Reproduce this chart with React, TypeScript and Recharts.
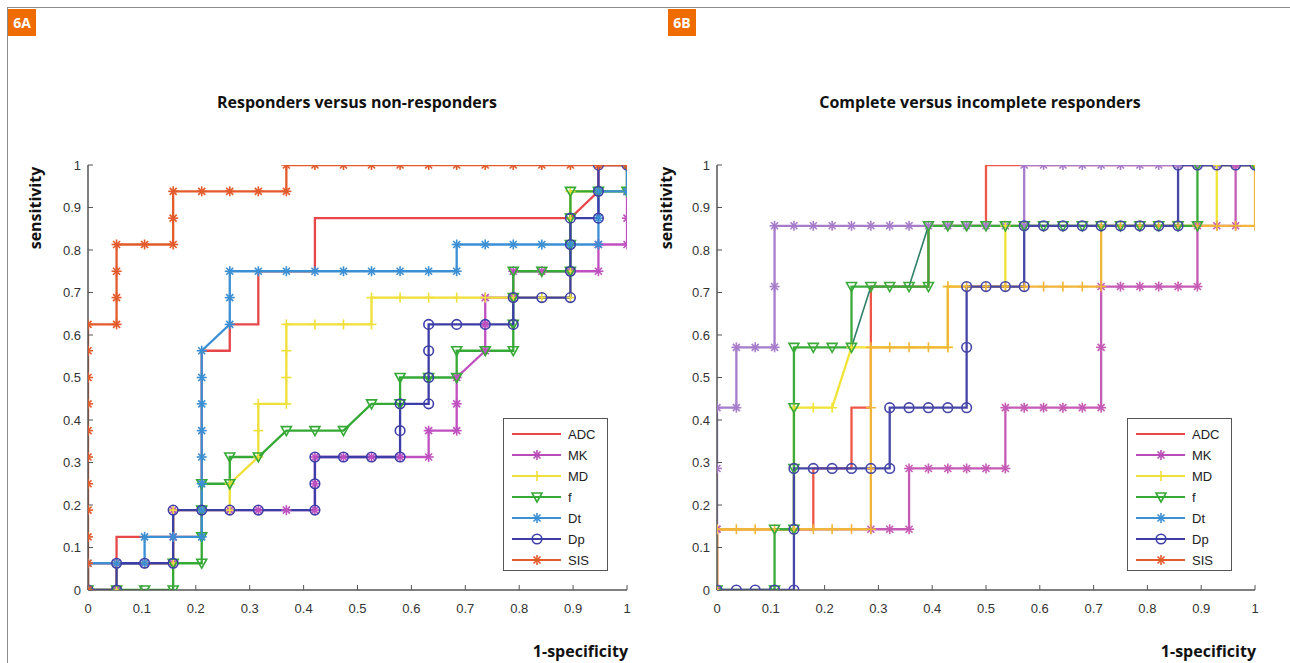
import React from 'react';
import { LineChart, Line, XAxis, YAxis, Legend } from 'recharts';

// ---- panel A: responders vs non-responders (x step 1/19, y step 1/16) ----
const A_ADC = [[0,0],[0,0.063],[0.053,0.063],[0.053,0.125],[0.105,0.125],[0.158,0.125],[0.211,0.125],[0.211,0.563],[0.263,0.563],[0.263,0.625],[0.316,0.625],[0.316,0.75],[0.421,0.75],[0.421,0.875],[0.895,0.875],[0.947,0.938],[0.947,1],[1,1]];
const A_MK = [[0,0],[0.053,0],[0.053,0.063],[0.105,0.063],[0.158,0.063],[0.158,0.125],[0.158,0.188],[0.211,0.188],[0.263,0.188],[0.316,0.188],[0.368,0.188],[0.421,0.188],[0.421,0.25],[0.421,0.313],[0.474,0.313],[0.526,0.313],[0.579,0.313],[0.632,0.313],[0.632,0.375],[0.684,0.375],[0.684,0.438],[0.684,0.5],[0.737,0.563],[0.737,0.625],[0.737,0.688],[0.789,0.688],[0.789,0.75],[0.842,0.75],[0.895,0.75],[0.947,0.75],[0.947,0.813],[1,0.813],[1,0.875],[1,0.938],[1,1]];
const A_MD = [[0,0],[0.053,0],[0.053,0.063],[0.105,0.063],[0.158,0.063],[0.158,0.188],[0.211,0.188],[0.263,0.188],[0.263,0.25],[0.316,0.313],[0.316,0.375],[0.316,0.438],[0.368,0.438],[0.368,0.5],[0.368,0.563],[0.368,0.625],[0.421,0.625],[0.474,0.625],[0.526,0.625],[0.526,0.688],[0.579,0.688],[0.632,0.688],[0.684,0.688],[0.737,0.688],[0.789,0.688],[0.842,0.688],[0.895,0.688],[0.895,0.75],[0.895,0.813],[0.895,0.875],[0.895,0.938],[0.947,0.938],[1,0.938],[1,1]];
const A_F = [[0,0],[0.053,0],[0.105,0],[0.158,0],[0.158,0.063],[0.211,0.063],[0.211,0.125],[0.211,0.188],[0.211,0.25],[0.263,0.25],[0.263,0.313],[0.316,0.313],[0.368,0.375],[0.421,0.375],[0.474,0.375],[0.526,0.438],[0.579,0.438],[0.579,0.5],[0.632,0.5],[0.684,0.5],[0.684,0.563],[0.737,0.563],[0.789,0.563],[0.789,0.625],[0.789,0.688],[0.789,0.75],[0.842,0.75],[0.895,0.75],[0.895,0.813],[0.895,0.875],[0.895,0.938],[0.947,0.938],[1,0.938],[1,1]];
const A_DT = [[0,0],[0,0.063],[0.053,0.063],[0.105,0.063],[0.105,0.125],[0.158,0.125],[0.211,0.125],[0.211,0.188],[0.211,0.25],[0.211,0.313],[0.211,0.375],[0.211,0.438],[0.211,0.5],[0.211,0.563],[0.263,0.625],[0.263,0.688],[0.263,0.75],[0.316,0.75],[0.368,0.75],[0.421,0.75],[0.474,0.75],[0.526,0.75],[0.579,0.75],[0.632,0.75],[0.684,0.75],[0.684,0.813],[0.737,0.813],[0.789,0.813],[0.842,0.813],[0.895,0.813],[0.947,0.813],[0.947,0.875],[0.947,0.938],[1,0.938],[1,1]];
const A_DP = [[0,0],[0.053,0],[0.053,0.063],[0.105,0.063],[0.158,0.063],[0.158,0.188],[0.211,0.188],[0.263,0.188],[0.316,0.188],[0.421,0.188],[0.421,0.25],[0.421,0.313],[0.474,0.313],[0.526,0.313],[0.579,0.313],[0.579,0.375],[0.579,0.438],[0.632,0.438],[0.632,0.5],[0.632,0.563],[0.632,0.625],[0.684,0.625],[0.737,0.625],[0.789,0.625],[0.789,0.688],[0.842,0.688],[0.895,0.688],[0.895,0.75],[0.895,0.813],[0.895,0.875],[0.947,0.875],[0.947,0.938],[0.947,1],[1,1]];
const A_SIS = [[0,0],[0,0.063],[0,0.125],[0,0.188],[0,0.25],[0,0.313],[0,0.375],[0,0.438],[0,0.5],[0,0.563],[0,0.625],[0.053,0.625],[0.053,0.688],[0.053,0.75],[0.053,0.813],[0.105,0.813],[0.158,0.813],[0.158,0.875],[0.158,0.938],[0.211,0.938],[0.263,0.938],[0.316,0.938],[0.368,0.938],[0.368,1],[0.421,1],[0.474,1],[0.526,1],[0.579,1],[0.632,1],[0.684,1],[0.737,1],[0.789,1],[0.842,1],[0.895,1],[0.947,1],[1,1]];

// ---- panel B: complete vs incomplete responders (x step 1/28, y step 1/7) ----
const B_ADC = [[0,0],[0,0.143],[0.179,0.143],[0.179,0.286],[0.25,0.286],[0.25,0.429],[0.286,0.429],[0.286,0.714],[0.393,0.714],[0.393,0.857],[0.5,0.857],[0.5,1],[1,1]];
const B_UPPER = [[0,0],[0,0.143],[0,0.286],[0,0.429],[0.036,0.429],[0.036,0.571],[0.071,0.571],[0.107,0.571],[0.107,0.714],[0.107,0.857],[0.143,0.857],[0.179,0.857],[0.214,0.857],[0.25,0.857],[0.286,0.857],[0.321,0.857],[0.357,0.857],[0.393,0.857],[0.429,0.857],[0.464,0.857],[0.5,0.857],[0.536,0.857],[0.571,0.857],[0.571,1],[0.607,1],[0.643,1],[0.679,1],[0.714,1],[0.75,1],[0.786,1],[0.821,1],[0.857,1],[0.893,1],[0.929,1],[0.964,1],[1,1]];
const B_LOWER = [[0,0],[0,0.143],[0.286,0.143],[0.321,0.143],[0.357,0.143],[0.357,0.286],[0.393,0.286],[0.429,0.286],[0.464,0.286],[0.5,0.286],[0.536,0.286],[0.536,0.429],[0.571,0.429],[0.607,0.429],[0.643,0.429],[0.679,0.429],[0.714,0.429],[0.714,0.571],[0.714,0.714],[0.75,0.714],[0.786,0.714],[0.821,0.714],[0.857,0.714],[0.893,0.714],[0.893,0.857],[0.929,0.857],[0.964,0.857],[0.964,1],[1,1]];
const B_MD = [[0,0],[0,0.143],[0.143,0.143],[0.143,0.429],[0.179,0.429],[0.214,0.429],[0.25,0.571],[0.429,0.571],[0.429,0.714],[0.536,0.714],[0.536,0.857],[0.929,0.857],[0.929,1],[1,1]];
const B_ORANGE = [[0,0],[0,0.143],[0.036,0.143],[0.071,0.143],[0.107,0.143],[0.143,0.143],[0.179,0.143],[0.214,0.143],[0.25,0.143],[0.286,0.143],[0.286,0.286],[0.286,0.429],[0.286,0.571],[0.321,0.571],[0.357,0.571],[0.393,0.571],[0.429,0.571],[0.429,0.714],[0.464,0.714],[0.5,0.714],[0.536,0.714],[0.571,0.714],[0.607,0.714],[0.643,0.714],[0.679,0.714],[0.714,0.714],[0.714,0.857],[0.75,0.857],[0.786,0.857],[0.821,0.857],[0.857,0.857],[0.893,0.857],[0.929,0.857],[0.964,0.857],[1,0.857],[1,1]];
const B_DIAG = [[0.25,0.571],[0.286,0.714],[0.357,0.714],[0.393,0.857]];
const B_F = [[0,0],[0.107,0],[0.107,0.143],[0.143,0.143],[0.143,0.286],[0.143,0.429],[0.143,0.571],[0.179,0.571],[0.214,0.571],[0.25,0.571],[0.25,0.714],[0.286,0.714],[0.321,0.714],[0.357,0.714],[0.393,0.714],[0.393,0.857],[0.429,0.857],[0.464,0.857],[0.5,0.857],[0.536,0.857],[0.571,0.857],[0.607,0.857],[0.643,0.857],[0.679,0.857],[0.714,0.857],[0.75,0.857],[0.786,0.857],[0.821,0.857],[0.857,0.857],[0.893,0.857],[0.893,1],[1,1]];
const B_DP = [[0,0],[0.036,0],[0.071,0],[0.107,0],[0.143,0],[0.143,0.143],[0.143,0.286],[0.179,0.286],[0.214,0.286],[0.25,0.286],[0.286,0.286],[0.321,0.286],[0.321,0.429],[0.357,0.429],[0.393,0.429],[0.429,0.429],[0.464,0.429],[0.464,0.571],[0.464,0.714],[0.5,0.714],[0.536,0.714],[0.571,0.714],[0.571,0.857],[0.607,0.857],[0.643,0.857],[0.679,0.857],[0.714,0.857],[0.75,0.857],[0.786,0.857],[0.821,0.857],[0.857,0.857],[0.857,1],[0.893,1],[0.929,1],[0.964,1],[1,1]];

const TICKS = [0, 0.1, 0.2, 0.3, 0.4, 0.5, 0.6, 0.7, 0.8, 0.9, 1];
const LEGEND_NAMES = ['ADC', 'MK', 'MD', 'f', 'Dt', 'Dp', 'SIS'];
const LEGEND_COLORS = ['#e8474a', '#b84cb8', '#efe03a', '#35a935', '#3b8fd4', '#3d3da8', '#e35a2b'];
const LEGEND_SHAPES = ['none', 'star', 'plus', 'tri', 'star', 'circle', 'star'];

type Series = { key: string; data: number[][]; color: string; shape: string; width?: number };

const seriesA: Series[] = [
  { key: 'ADC', data: A_ADC, color: '#e8474a', shape: 'none' },
  { key: 'MK', data: A_MK, color: '#c050c0', shape: 'star' },
  { key: 'MD', data: A_MD, color: '#efe03a', shape: 'plus' },
  { key: 'f', data: A_F, color: '#35a935', shape: 'tri' },
  { key: 'Dt', data: A_DT, color: '#3b8fd4', shape: 'star' },
  { key: 'Dp', data: A_DP, color: '#3d3da8', shape: 'circle' },
  { key: 'SIS', data: A_SIS, color: '#e35a2b', shape: 'star' },
];

const seriesB: Series[] = [
  { key: 'ADC', data: B_ADC, color: '#ee5648', shape: 'none' },
  { key: 'upper', data: B_UPPER, color: '#a77ccb', shape: 'star' },
  { key: 'lower', data: B_LOWER, color: '#c65bb6', shape: 'star' },
  { key: 'MD', data: B_MD, color: '#f2e436', shape: 'plus' },
  { key: 'orange', data: B_ORANGE, color: '#f0b53a', shape: 'plus' },
  { key: 'diag', data: B_DIAG, color: '#2f7f6a', shape: 'none', width: 1.6 },
  { key: 'f', data: B_F, color: '#3aaa3a', shape: 'tri' },
  { key: 'Dp', data: B_DP, color: '#4646a8', shape: 'circle' },
];

const drawMarker = (shape: string, color: string, cx: number, cy: number, k: string) => {
  const s = 5;
  const d = 3.5;
  if (shape === 'star') {
    return (
      <g key={k} stroke={color} strokeWidth={1.6}>
        <line x1={cx - s} y1={cy} x2={cx + s} y2={cy} />
        <line x1={cx} y1={cy - s} x2={cx} y2={cy + s} />
        <line x1={cx - d} y1={cy - d} x2={cx + d} y2={cy + d} />
        <line x1={cx - d} y1={cy + d} x2={cx + d} y2={cy - d} />
      </g>
    );
  }
  if (shape === 'plus') {
    return (
      <g key={k} stroke={color} strokeWidth={1.6}>
        <line x1={cx - s} y1={cy} x2={cx + s} y2={cy} />
        <line x1={cx} y1={cy - s} x2={cx} y2={cy + s} />
      </g>
    );
  }
  if (shape === 'tri') {
    return (
      <polygon key={k} points={`${cx - 5},${cy - 4} ${cx + 5},${cy - 4} ${cx},${cy + 5}`} fill="none" stroke={color} strokeWidth={1.6} />
    );
  }
  if (shape === 'circle') {
    return <circle key={k} cx={cx} cy={cy} r={4.8} fill="none" stroke={color} strokeWidth={1.6} />;
  }
  return <g key={k} />;
};

const LegendBox = () => (
  <div style={{ width: 105, height: 153, border: '1.5px solid #555', background: '#fff', boxSizing: 'border-box', paddingTop: 4 }}>
    <svg width={102} height={147}>
      {LEGEND_NAMES.map((name, i) => {
        const y = 11 + i * 21;
        return (
          <g key={name}>
            <line x1={8} y1={y} x2={57} y2={y} stroke={LEGEND_COLORS[i]} strokeWidth={2} />
            {drawMarker(LEGEND_SHAPES[i], LEGEND_COLORS[i], 33, y, 'm' + i)}
            <text x={64} y={y + 4.5} fontSize={13} fontFamily="Liberation Sans, Arial" fill="#222">{name}</text>
          </g>
        );
      })}
    </svg>
  </div>
);

const tickStyle = { fontSize: 13, fontFamily: 'Liberation Sans, Arial', fill: '#333' };
const axisLine = { stroke: '#555', strokeWidth: 1.5 };

const RocPanel = ({ series, rightMargin, legendLeft }: { series: Series[]; rightMargin: number; legendLeft: number }) => (
  <LineChart width={600} height={470} margin={{ top: 15, right: rightMargin, bottom: 0, left: 0 }}>
    <XAxis xAxisId="b" dataKey="x" type="number" domain={[0, 1]} ticks={TICKS} orientation="bottom" height={30}
      tickSize={-5} tickMargin={19} tick={tickStyle} axisLine={axisLine} tickLine={{ stroke: '#555' }} allowDataOverflow />
    <XAxis xAxisId="t" dataKey="x" type="number" domain={[0, 1]} ticks={TICKS} orientation="top" height={0}
      tickSize={-5} tick={false} axisLine={axisLine} tickLine={{ stroke: '#555' }} />
    <YAxis yAxisId="l" dataKey="y" type="number" domain={[0, 1]} ticks={TICKS} width={48}
      tickSize={-5} tickMargin={12} tick={tickStyle} axisLine={axisLine} tickLine={{ stroke: '#555' }} allowDataOverflow />
    <YAxis yAxisId="r" dataKey="y" type="number" domain={[0, 1]} ticks={TICKS} orientation="right" width={0}
      tickSize={-5} tick={false} axisLine={axisLine} tickLine={{ stroke: '#555' }} />
    {series.map((s) => (
      <Line
        key={s.key}
        xAxisId="b"
        yAxisId="l"
        data={s.data.map(([x, y]) => ({ x, y }))}
        dataKey="y"
        type="linear"
        stroke={s.color}
        strokeWidth={s.width ?? 2.3}
        isAnimationActive={false}
        activeDot={false}
        dot={s.shape === 'none' ? false : (p: any) => drawMarker(s.shape, s.color, p.cx, p.cy, `${s.key}-${p.index}`)}
      />
    ))}
    <Legend content={() => <LegendBox />} layout="horizontal" align="center" verticalAlign="middle"
      wrapperStyle={{ position: 'absolute', left: legendLeft, top: 268, width: 105, height: 153 }} />
  </LineChart>
);

const tag = (left: number, text: string) => (
  <div style={{ position: 'absolute', left, top: 9, width: 28, height: 27, background: '#ef6c00', color: '#fff',
    fontFamily: 'Open Sans, sans-serif', fontWeight: 700, fontSize: 14, lineHeight: '27px', textAlign: 'center' }}>{text}</div>
);

const labelFont = { fontFamily: 'Open Sans, sans-serif', fontWeight: 700, fontSize: 16, color: '#111' } as const;

export default function App() {
  return (
    <div style={{ position: 'absolute', left: 0, top: 0, width: 1290, height: 663, background: '#fff', overflow: 'hidden' }}>
      <div style={{ position: 'absolute', left: 7, top: 7, width: 1290, height: 663, borderTop: '1.5px solid #8c8c8c', borderLeft: '1.5px solid #8c8c8c' }} />
      {tag(8, '6A')}
      {tag(668, '6B')}
      <div style={{ ...labelFont, position: 'absolute', left: 357, top: 91, transform: 'translateX(-50%)', whiteSpace: 'nowrap' }}>Responders versus non-responders</div>
      <div style={{ ...labelFont, position: 'absolute', left: 980, top: 91, transform: 'translateX(-50%)', whiteSpace: 'nowrap' }}>Complete versus incomplete responders</div>
      <div style={{ ...labelFont, position: 'absolute', left: 35, top: 208, transform: 'translate(-50%, -50%) rotate(-90deg)', whiteSpace: 'nowrap' }}>sensitivity</div>
      <div style={{ ...labelFont, position: 'absolute', left: 666, top: 208, transform: 'translate(-50%, -50%) rotate(-90deg)', whiteSpace: 'nowrap' }}>sensitivity</div>
      <div style={{ ...labelFont, position: 'absolute', right: 1290 - 628, top: 640, whiteSpace: 'nowrap' }}>1-specificity</div>
      <div style={{ ...labelFont, position: 'absolute', right: 1290 - 1256, top: 640, whiteSpace: 'nowrap' }}>1-specificity</div>
      <div style={{ position: 'absolute', left: 40, top: 150 }}>
        <RocPanel series={seriesA} rightMargin={13} legendLeft={463} />
      </div>
      <div style={{ position: 'absolute', left: 669, top: 150 }}>
        <RocPanel series={seriesB} rightMargin={14} legendLeft={458} />
      </div>
    </div>
  );
}
